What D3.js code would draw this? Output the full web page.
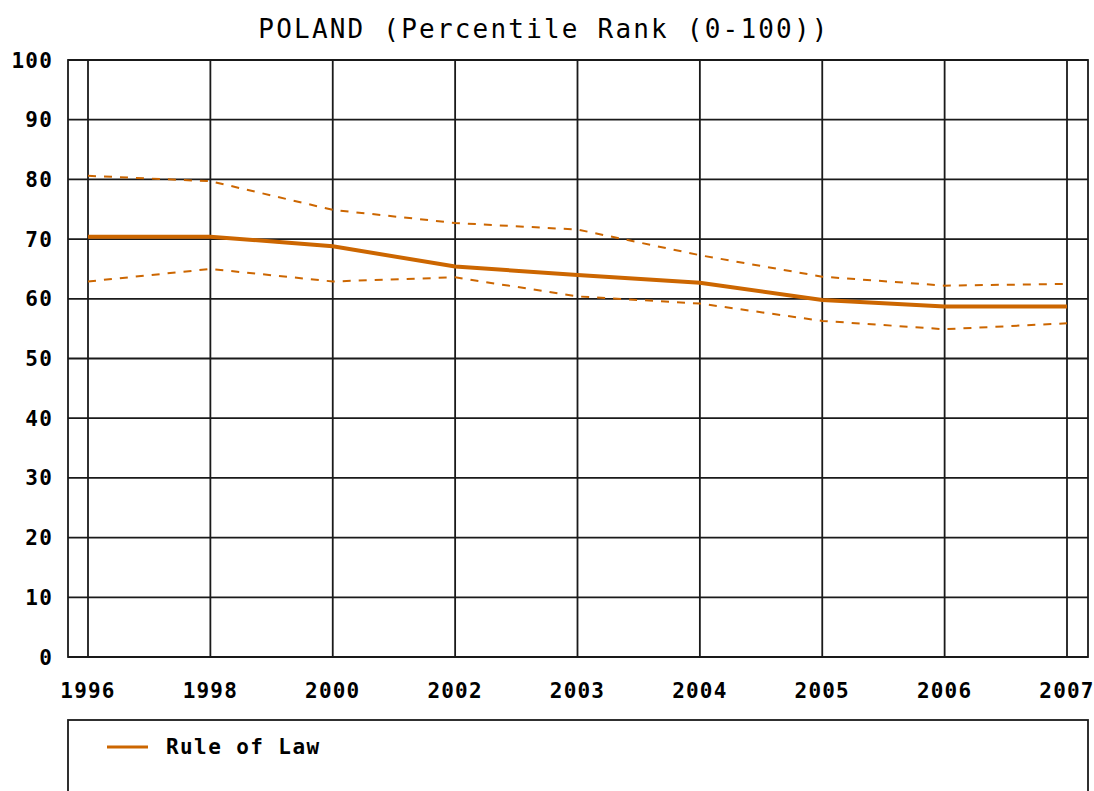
<!DOCTYPE html>
<html>
<head>
<meta charset="utf-8">
<script src="https://d3js.org/d3.v7.min.js"></script>
<style>
body { margin: 0; background: #fff; }
text { font-family: "DejaVu Sans Mono", "Liberation Mono", monospace; }
</style>
</head>
<body>
<div id="chart"></div>
<script>
// Chart data
const years = ["1996", "1998", "2000", "2002", "2003", "2004", "2005", "2006", "2007"];
const ruleOfLaw = [70.4, 70.4, 68.8, 65.4, 64.0, 62.7, 59.8, 58.7, 58.7];
const upperBound = [80.6, 79.7, 74.9, 72.7, 71.6, 67.3, 63.7, 62.2, 62.5];
const lowerBound = [62.9, 65.0, 62.9, 63.6, 60.4, 59.2, 56.3, 54.9, 55.9];
const yTicks = [0, 10, 20, 30, 40, 50, 60, 70, 80, 90, 100];
const titleText = "POLAND (Percentile Rank (0-100))";
const seriesName = "Rule of Law";

const W = 1094, H = 791;
const margin = {top: 60, right: 6, bottom: 134, left: 68};
const width = W - margin.left - margin.right,
    height = H - margin.top - margin.bottom;
const orange = "#cc6600";
const ink = "#1a1a1a";

const svg = d3.select("#chart")
    .append("svg")
    .attr("width", W)
    .attr("height", H);

// Title
svg.append("text")
    .attr("x", 544)
    .attr("y", 38)
    .attr("text-anchor", "middle")
    .style("font-size", "26px")
    .style("letter-spacing", "2.2px")
    .text(titleText);

const g = svg.append("g")
    .attr("transform", `translate(${margin.left},${margin.top})`);

// Scales
const x = d3.scalePoint()
    .domain(years)
    .range([20, width - 21]);

const y = d3.scaleLinear()
    .domain([0, 100])
    .range([height, 0]);

// Grid
g.selectAll(".hgrid")
    .data(yTicks)
    .enter()
    .append("line")
    .attr("x1", 0)
    .attr("x2", width)
    .attr("y1", d => y(d))
    .attr("y2", d => y(d))
    .attr("stroke", ink)
    .attr("stroke-width", 1.8);

g.selectAll(".vgrid")
    .data(years)
    .enter()
    .append("line")
    .attr("x1", d => x(d))
    .attr("x2", d => x(d))
    .attr("y1", 0)
    .attr("y2", height)
    .attr("stroke", ink)
    .attr("stroke-width", 1.8);

// Frame
g.append("rect")
    .attr("width", width)
    .attr("height", height)
    .attr("fill", "none")
    .attr("stroke", ink)
    .attr("stroke-width", 1.8);

// Y labels
g.selectAll(".ylab")
    .data(yTicks)
    .enter()
    .append("text")
    .attr("x", -15)
    .attr("y", d => y(d))
    .attr("dy", "0.36em")
    .attr("text-anchor", "end")
    .style("font-size", "21px")
    .style("font-weight", "bold")
    .style("letter-spacing", "1.2px")
    .text(d => d);

// X labels
g.selectAll(".xlab")
    .data(years)
    .enter()
    .append("text")
    .attr("x", d => x(d))
    .attr("y", height + 33)
    .attr("dy", "0.36em")
    .attr("text-anchor", "middle")
    .style("font-size", "21px")
    .style("font-weight", "bold")
    .style("letter-spacing", "1.2px")
    .text(d => d);

const line = d3.line()
    .x((d, i) => x(years[i]))
    .y(d => y(d));

// Confidence bounds
[upperBound, lowerBound].forEach(arr => {
    g.append("path")
        .datum(arr)
        .attr("fill", "none")
        .attr("stroke", orange)
        .attr("stroke-width", 2)
        .attr("stroke-dasharray", "8,8")
        .attr("d", line);
});

// Main line
g.append("path")
    .datum(ruleOfLaw)
    .attr("fill", "none")
    .attr("stroke", orange)
    .attr("stroke-width", 4)
    .attr("d", line);

// Legend
svg.append("rect")
    .attr("x", 68)
    .attr("y", 720)
    .attr("width", width)
    .attr("height", 100)
    .attr("fill", "none")
    .attr("stroke", ink)
    .attr("stroke-width", 1.8);

svg.append("line")
    .attr("x1", 107)
    .attr("x2", 148)
    .attr("y1", 747)
    .attr("y2", 747)
    .attr("stroke", orange)
    .attr("stroke-width", 3);

svg.append("text")
    .attr("x", 166)
    .attr("y", 746)
    .attr("dy", "0.36em")
    .style("font-size", "21px")
    .style("font-weight", "bold")
    .style("letter-spacing", "1.4px")
    .text(seriesName);
</script>
</body>
</html>
